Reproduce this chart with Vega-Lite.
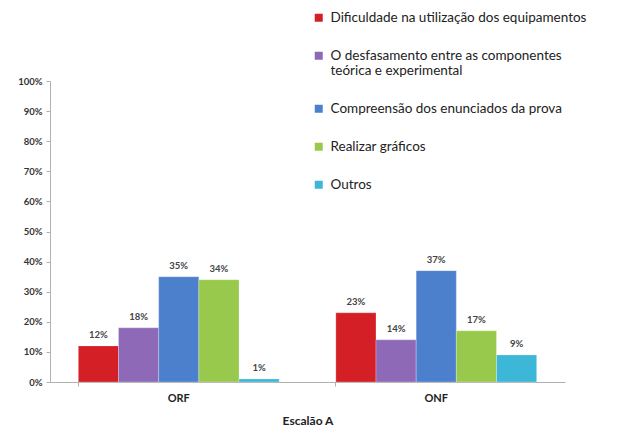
{
  "$schema": "https://vega.github.io/schema/vega-lite/v6.json",
  "width": 515,
  "height": 301,
  "autosize": {"type": "none"},
  "padding": {"left": 50, "top": 81, "right": 59, "bottom": 57},
  "background": "white",
  "config": {"view": {"stroke": null}, "font": "Lato"},
  "data": {"values": [
    {"grupo": "ORF", "cat": "Dificuldade na utilização dos equipamentos", "v": 0.12},
    {"grupo": "ORF", "cat": "O desfasamento entre as componentes teórica e experimental", "v": 0.18},
    {"grupo": "ORF", "cat": "Compreensão dos enunciados da prova", "v": 0.35},
    {"grupo": "ORF", "cat": "Realizar gráficos", "v": 0.34},
    {"grupo": "ORF", "cat": "Outros", "v": 0.01},
    {"grupo": "ONF", "cat": "Dificuldade na utilização dos equipamentos", "v": 0.23},
    {"grupo": "ONF", "cat": "O desfasamento entre as componentes teórica e experimental", "v": 0.14},
    {"grupo": "ONF", "cat": "Compreensão dos enunciados da prova", "v": 0.37},
    {"grupo": "ONF", "cat": "Realizar gráficos", "v": 0.17},
    {"grupo": "ONF", "cat": "Outros", "v": 0.09}
  ]},
  "encoding": {
    "x": {
      "field": "grupo", "type": "nominal", "sort": ["ORF", "ONF"],
      "scale": {"paddingInner": 0.22, "paddingOuter": 0.11},
      "axis": {
        "title": "Escalão A", "titleFontSize": 12, "titleFontWeight": "bold", "titleColor": "#222",
        "titlePadding": 12,
        "labelAngle": 0, "labelFontSize": 11, "labelFontWeight": "bold", "labelColor": "#222", "labelPadding": 6,
        "domainColor": "#b0b0b0", "tickColor": "#b0b0b0", "tickSize": 4, "bandPosition": 0
      }
    },
    "xOffset": {
      "field": "cat", "type": "nominal",
      "sort": ["Dificuldade na utilização dos equipamentos", "O desfasamento entre as componentes teórica e experimental", "Compreensão dos enunciados da prova", "Realizar gráficos", "Outros"],
      "scale": {"paddingInner": 0, "paddingOuter": 0}
    },
    "y": {
      "field": "v", "type": "quantitative",
      "scale": {"domain": [0, 1]},
      "axis": {
        "title": null, "format": ".0%", "values": [0, 0.1, 0.2, 0.3, 0.4, 0.5, 0.6, 0.7, 0.8, 0.9, 1.0],
        "grid": false, "labelFontSize": 9.5, "labelFontWeight": "bold", "labelColor": "#333",
        "domainColor": "#b0b0b0", "tickColor": "#b0b0b0", "tickSize": 4, "labelPadding": 4
      }
    }
  },
  "layer": [
    {
      "mark": {"type": "bar", "stroke": "#ffffff", "strokeWidth": 0.5, "strokeOpacity": 0.5},
      "encoding": {
        "color": {
          "field": "cat", "type": "nominal",
          "scale": {
            "domain": ["Dificuldade na utilização dos equipamentos", "O desfasamento entre as componentes teórica e experimental", "Compreensão dos enunciados da prova", "Realizar gráficos", "Outros"],
            "range": ["#d41f26", "#8e69b8", "#4d80cc", "#99c94c", "#3cb7d8"]
          },
          "legend": {
            "title": null, "orient": "none", "legendX": 262, "legendY": -70,
            "symbolType": "square", "symbolSize": 64, "symbolStrokeWidth": 0,
            "labelFontSize": 13.5, "labelColor": "#222", "labelLimit": 400,
            "rowPadding": 23, "labelOffset": 5,
            "labelExpr": "datum.label == 'O desfasamento entre as componentes teórica e experimental' ? ['O desfasamento entre as componentes', 'teórica e experimental'] : datum.label"
          }
        }
      }
    },
    {
      "mark": {"type": "text", "dy": -6, "baseline": "bottom", "fontSize": 9.5, "fontWeight": "bold", "color": "#444"},
      "encoding": {
        "text": {"field": "v", "type": "quantitative", "format": ".0%"}
      }
    }
  ]
}
